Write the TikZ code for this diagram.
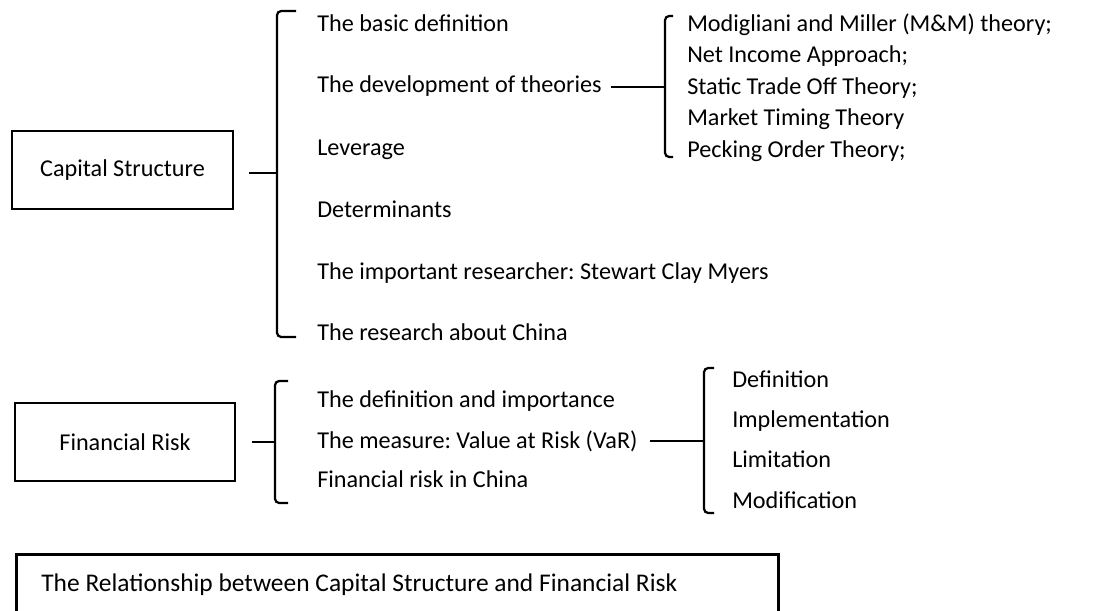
\documentclass[tikz,border=0pt]{standalone}
\usepackage{fontspec}
\setmainfont{Carlito}
\usetikzlibrary{positioning}
\frenchspacing

\begin{document}
\begin{tikzpicture}[x=0.025cm,y=-0.025cm,
    box/.style={draw,line width=1.9pt,inner sep=0pt,font=\fontsize{17.2}{20}\selectfont},
    item/.style={anchor=base west,inner sep=0pt,font=\fontsize{17.2}{20}\selectfont},
    brace/.style={line width=1.6pt,rounded corners=3pt},
    stub/.style={line width=1.6pt}]
  \useasboundingbox (0,0) rectangle (1098,611);
  % left boxes
  \node[box,minimum width=5.525cm,minimum height=1.95cm] (capbox) at (122.5,170) {Capital Structure};
  \node[box,minimum width=5.5cm,minimum height=1.95cm] (finbox) at (125,442) {Financial Risk};
  \node[box,anchor=north west,minimum width=19.05cm,minimum height=1.5cm,
        text width=17.8cm,align=flush left,inner xsep=0.625cm,
        font=\fontsize{18.1}{21}\selectfont] (relbox) at (15,553)
        {The Relationship between Capital Structure and Financial Risk};
  % brace tips
  \coordinate (capbr) at (277,173);
  \coordinate (devbr) at (665,87);
  \coordinate (finbr) at (275,442);
  \coordinate (varbr) at (704,441);
  % capital structure topics
  \foreach \n/\yy/\t in {basic/32/{The basic definition},
      dev/93/{The development of theories},
      lev/155/{Leverage},
      det/217/{Determinants},
      myers/279/{The important researcher: Stewart Clay Myers},
      china/340/{The research about China}}{
    \node[item] (\n) at (317,\yy) {\t};
  }
  % theories
  \foreach \n/\yy/\t in {mm/32/{Modigliani and Miller (M\&M) theory;},
      nia/63/{Net Income Approach;},
      sto/95/{Static Trade Off Theory;},
      mtt/126/{Market Timing Theory},
      pot/157/{Pecking Order Theory;}}{
    \node[item] (\n) at (687,\yy) {\t};
  }
  % financial risk topics
  \foreach \n/\yy/\t in {defimp/407/{The definition and importance},
      var/448/{The measure: Value at Risk (VaR)},
      frc/487/{Financial risk in China}}{
    \node[item] (\n) at (317,\yy) {\t};
  }
  % VaR topics
  \foreach \n/\yy/\t in {vdef/387/{Definition},
      vimp/427/{Implementation},
      vlim/467/{Limitation},
      vmod/508/{Modification}}{
    \node[item] (\n) at (732,\yy) {\t};
  }
  % braces
  \draw[brace] (296,11) -- (277,11) -- (277,337) -- (296,337);
  \draw[brace] (673,16) -- (665,16) -- (665,157) -- (673,157);
  \draw[brace] (288,381) -- (275,381) -- (275,503) -- (288,503);
  \draw[brace] (714,368) -- (704,368) -- (704,513) -- (714,513);
  % stubs
  \draw[stub,shorten <=0.375cm] (capbox.east |- capbr) -- (capbr);
  \draw[stub,shorten <=0.225cm] (dev.east |- devbr) -- (devbr);
  \draw[stub,shorten <=0.4cm] (finbox.east |- finbr) -- (finbr);
  \draw[stub,shorten <=0.3cm] (var.east |- varbr) -- (varbr);
\end{tikzpicture}
\end{document}
